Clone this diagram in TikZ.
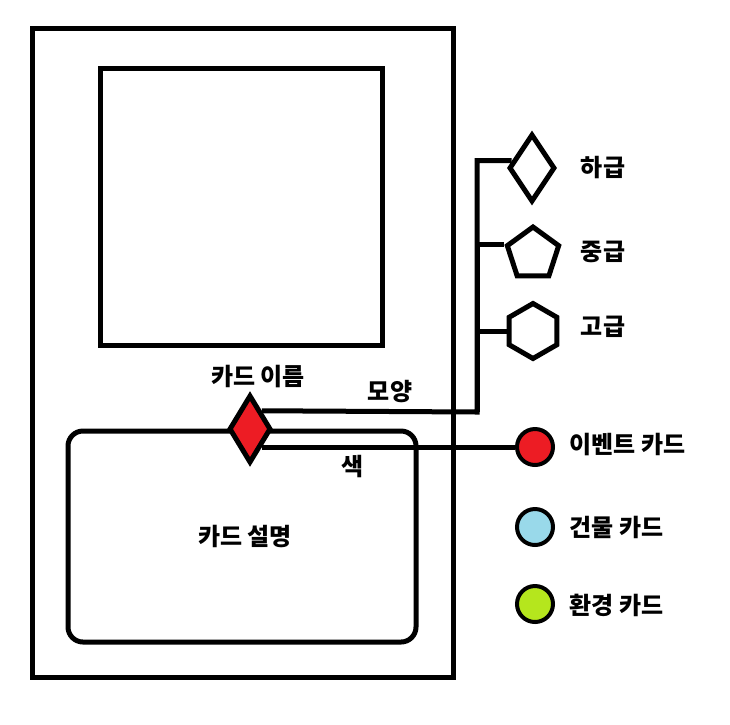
\documentclass[tikz,border=0pt]{standalone}
\usepackage{fontspec}
\newfontfamily\kr{Noto Sans CJK KR}
\usetikzlibrary{shapes.geometric, positioning}
\definecolor{cardred}{RGB}{237,28,36}
\definecolor{cardblue}{RGB}{153,217,234}
\definecolor{cardgreen}{RGB}{181,230,29}

\begin{document}
\begin{tikzpicture}[x=1pt,y=-1pt,line width=5pt,
    lbl/.style={font=\kr\bfseries\fontsize{24}{28}\selectfont,inner sep=0pt},
    tier/.style={draw,fill=white,inner sep=0pt},
    dot/.style={circle,draw,line width=4pt,minimum size=36pt,inner sep=0pt}]
      \useasboundingbox (0,0) rectangle (730,724);
      % card
      \draw (32,28) rectangle (453,677);
      \draw (100,68) rectangle (382,345);
      \draw[rounded corners=15pt] (68,431) rectangle (416,642);
      \node[tier,diamond,fill=cardred,minimum width=42pt,minimum height=68pt] (gem) at (250,429) {};
      \node[lbl] (name) at (258,377) {카드 이름};
      \node[lbl] (desc) at (245,536) {카드 설명};

      % shape
      \node[tier,diamond,minimum width=46pt,minimum height=68pt] (low) at (532,168) {};
      \node[tier,regular polygon,regular polygon sides=5,minimum size=54pt] (mid) at (533,254) {};
      \node[tier,regular polygon,regular polygon sides=6,shape border rotate=30,minimum size=55pt] (high) at (533,331) {};
      \node[lbl] (low_t) at (603,168) {하급};
      \node[lbl] (mid_t) at (603,252) {중급};
      \node[lbl] (high_t) at (603,327) {고급};
      \coordinate (spine) at (477,412);
      \draw (gem.north east) -- (spine) |- (low.160);
      \draw (spine) |- (mid.corner 2);
      \draw (spine) |- (high.west);
      \node[lbl] (shape_t) at (390,392) {모양};

      % colour
      \node[dot,fill=cardred] (ev) at (535,447) {};
      \node[dot,fill=cardblue] (bd) at (535,527) {};
      \node[dot,fill=cardgreen] (env) at (535,604) {};
      \node[lbl,anchor=west] (ev_t) at (567,445) {이벤트 카드};
      \node[lbl,anchor=west] (bd_t) at (567,527) {건물 카드};
      \node[lbl,anchor=west] (env_t) at (567,605) {환경 카드};
      \draw (gem.south east) -- (gem.south east -| ev.west);
      \node[lbl] (colour_t) at (353,467) {색};
\end{tikzpicture}
\end{document}
